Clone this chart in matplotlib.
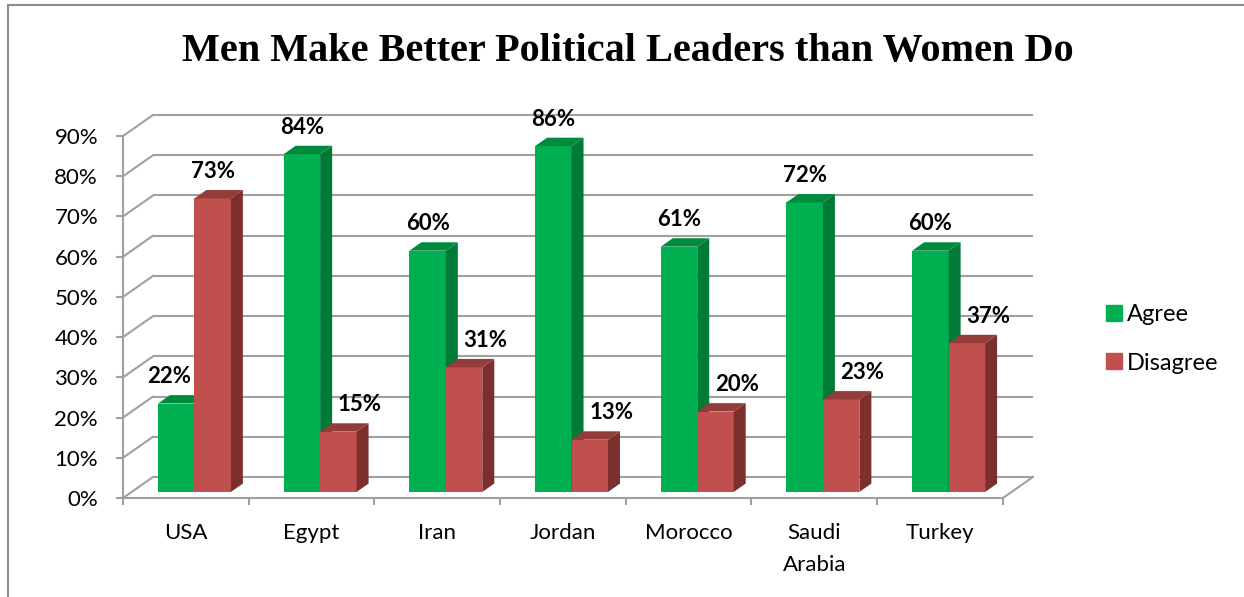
import numpy as np
import matplotlib
matplotlib.use("Agg")
import matplotlib.pyplot as plt
from matplotlib.lines import Line2D

plt.rcParams['font.family'] = ['Lato', 'DejaVu Sans']

# Daten
categories = ['USA', 'Egypt', 'Iran', 'Jordan', 'Morocco', 'Saudi\nArabia', 'Turkey']
agree = [22, 84, 60, 86, 61, 72, 60]
disagree = [73, 15, 31, 13, 20, 23, 37]
series_names = ['Agree', 'Disagree']
y_ticks = [0, 10, 20, 30, 40, 50, 60, 70, 80, 90]

title = 'Men Make Better Political Leaders than Women Do'

# Farben: Vorderseite, Seite, Deckel
green = ('#00B050', '#007A37', '#008A3E')
red = ('#C0504D', '#7B302E', '#943C39')
grid_col = '#A0A0A0'

W, H = 1244, 597
PX_X = 125.7     # Pixel pro Kategorie
PX_Y = 4.022     # Pixel pro Prozentpunkt
X0, Y0 = 123, 498  # Ursprung (Vorderkante) in Pixeln

# Tiefe der 3D-Ansicht in Dateneinheiten
DX = 30 / PX_X
DY = 21 / PX_Y
d0, d1 = 0.286, 0.686   # vordere / hintere Tiefe der Balken
bw = 0.29               # Balkenbreite

n = len(categories)
xmax, ymin, ymax = 7.3, -3.0, 98.0

fig = plt.figure(figsize=(W / 100, H / 100), dpi=100)
ax = fig.add_axes([X0 / W, (H - (Y0 - ymin * PX_Y)) / H,
                   xmax * PX_X / W, (ymax - ymin) * PX_Y / H])
ax.set_xlim(0, xmax)
ax.set_ylim(ymin, ymax)

# Rückwand und linke Seitenwand
for v in y_ticks:
    ax.plot([DX, n + DX], [v + DY, v + DY], color=grid_col, lw=1.5, zorder=1,
            solid_capstyle='butt')
    ax.plot([0, DX], [v, v + DY], color=grid_col, lw=1.5, zorder=1)
# rechte Kante des Bodens
ax.plot([n, n + DX], [0, DY], color=grid_col, lw=1.5, zorder=1)


def bar3d(xl, v, cols, z):
    xr = xl + bw
    front = [(xl + d0 * DX, d0 * DY), (xr + d0 * DX, d0 * DY),
             (xr + d0 * DX, v + d0 * DY), (xl + d0 * DX, v + d0 * DY)]
    side = [(xr + d0 * DX, d0 * DY), (xr + d1 * DX, d1 * DY),
            (xr + d1 * DX, v + d1 * DY), (xr + d0 * DX, v + d0 * DY)]
    top = [(xl + d0 * DX, v + d0 * DY), (xr + d0 * DX, v + d0 * DY),
           (xr + d1 * DX, v + d1 * DY), (xl + d1 * DX, v + d1 * DY)]
    for poly, c in zip([front, side, top], cols):
        xs, ys = zip(*poly)
        ax.fill(xs, ys, color=c, lw=0, zorder=z)


for i in range(n):
    xg = i + 0.5 - bw
    xr = i + 0.5
    bar3d(xg, agree[i], green, 3)
    bar3d(xr, disagree[i], red, 4)

    # Beschriftungen
    ga, ra = agree[i], disagree[i]
    gx = xg + bw / 2 + d0 * DX
    rx = xr + bw / 2 + d0 * DX
    if ga < ra:
        gx -= 0.055
    if ra < ga:
        rx += 0.17
    ax.text(gx, ga + d0 * DY + 6.7, f'{ga}%', ha='center', va='center',
            fontsize=16, fontweight='bold', zorder=6)
    ax.text(rx, ra + d0 * DY + 6.7, f'{ra}%', ha='center', va='center',
            fontsize=16, fontweight='bold', zorder=6)

# Achsen
for s in ['top', 'right']:
    ax.spines[s].set_visible(False)
ax.spines['left'].set_bounds(0, 90)
ax.spines['left'].set_position(('data', 0))
ax.spines['bottom'].set_bounds(0, n)
ax.spines['bottom'].set_position(('data', 0))
for s in ['left', 'bottom']:
    ax.spines[s].set_color(grid_col)
    ax.spines[s].set_linewidth(1.5)
    ax.spines[s].set_zorder(2)

ax.set_yticks(y_ticks, [f'{v}%' for v in y_ticks])
ax.set_xticks(np.arange(n + 1), [''] * (n + 1))
ax.set_xticks(np.arange(n) + 0.5, categories, minor=True)
for lbl in ax.get_xticklabels(minor=True):
    lbl.set_linespacing(1.75)
ax.tick_params(axis='both', which='major', color=grid_col, width=1.5,
               length=5, direction='out', labelsize=16)
ax.tick_params(axis='x', which='minor', length=0, pad=18, labelsize=16)
ax.tick_params(axis='y', pad=13)

# Legende
handles = [Line2D([], [], marker='s', ls='none', markersize=11,
                  color=c[0]) for c in (green, red)]
fig.legend(handles, series_names, loc='center left',
           bbox_to_anchor=(1083 / W, 1 - 339 / H), frameon=False,
           fontsize=17, handlelength=0.8, handletextpad=0.15,
           labelspacing=1.15)

fig.text(628 / W, 1 - 52 / H, title, ha='center', va='center',
         fontsize=29, fontweight='bold', family='Liberation Serif')

# Rahmen
fig.add_artist(Line2D([8 / W, 8 / W], [0, 1 - 5 / H], color='#8C8C8C', lw=1.5))
fig.add_artist(Line2D([8 / W, 1], [1 - 5 / H, 1 - 5 / H], color='#8C8C8C', lw=1.5))

fig.savefig('out.png', dpi=100)
